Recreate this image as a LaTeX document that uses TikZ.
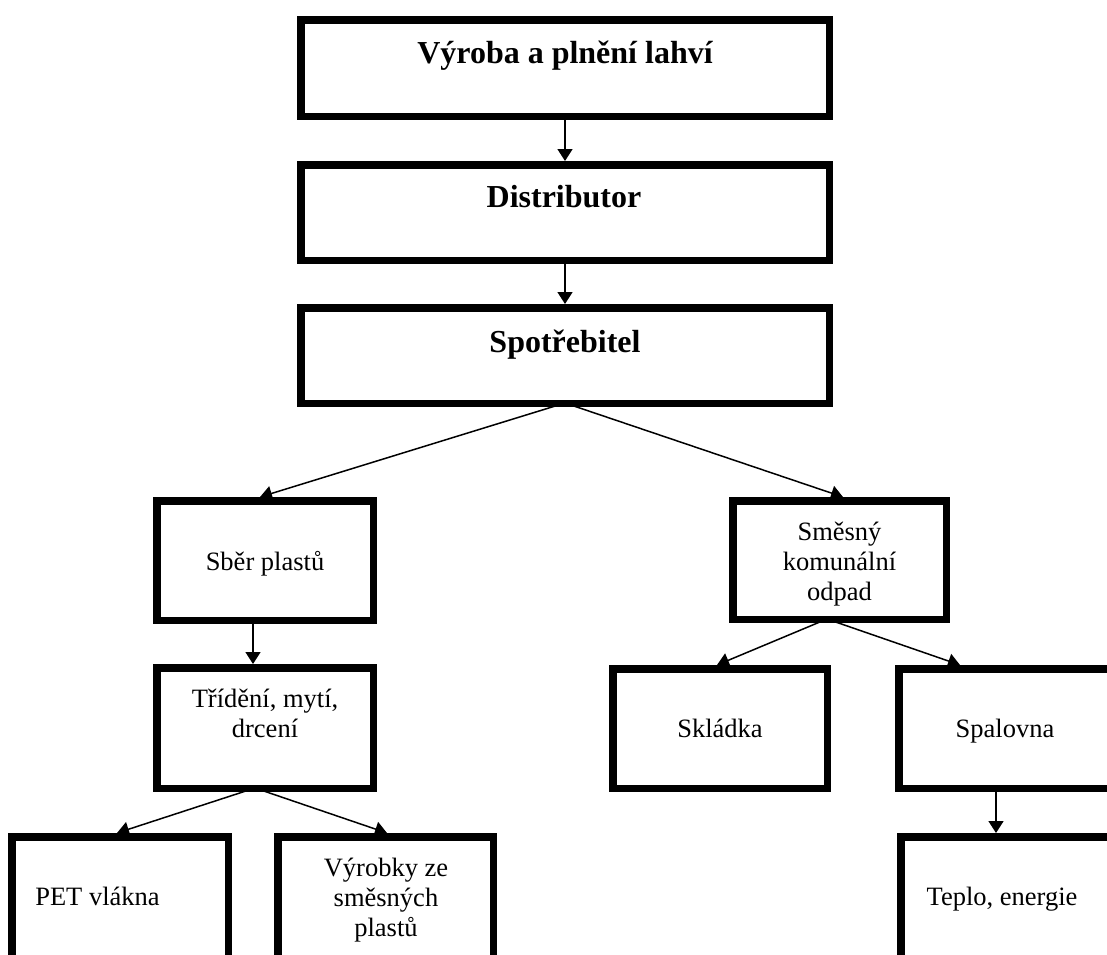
\documentclass[tikz,border=0pt]{standalone}
\usepackage{fontspec}
\setmainfont{Liberation Serif}
\usetikzlibrary{arrows.meta}
\tikzset{
  box/.style={draw, line width=7.5pt, rectangle, inner sep=0pt, outer sep=3.75pt},
  bigtxt/.style={font=\fontsize{32}{36}\selectfont\bfseries, inner sep=0pt, anchor=base},
  txt/.style={font=\fontsize{26.5}{30}\selectfont, inner sep=0pt, anchor=base, align=center},
  conn/.style={line width=1.5pt, -{Triangle[length=12pt,width=15pt]}}
}
\begin{document}
\begin{tikzpicture}[x=1pt,y=-1pt]
\useasboundingbox (0,0) rectangle (1107,954);
\clip (0,0) rectangle (1107,954);
% boxes
\node[box, minimum width=528.5pt, minimum height=96.5pt] (vyroba) at (565,68) {};
\node[box, minimum width=528.5pt, minimum height=95.5pt] (distrib) at (565,212.5) {};
\node[box, minimum width=528.5pt, minimum height=95.5pt] (spotreb) at (565,355.5) {};
\node[box, minimum width=216.5pt, minimum height=119.5pt] (sber) at (265,560.5) {};
\node[box, minimum width=213.5pt, minimum height=118.5pt] (smesny) at (839.5,560) {};
\node[box, minimum width=216.5pt, minimum height=120.5pt] (trid) at (265,728) {};
\node[box, minimum width=214.5pt, minimum height=119.5pt] (skladka) at (720,728.5) {};
\node[box, minimum width=212.5pt, minimum height=119.5pt] (spalovna) at (1005,728.5) {};
\node[box, minimum width=216.5pt, minimum height=139.5pt] (pet) at (120,906.5) {};
\node[box, minimum width=215.5pt, minimum height=139.5pt] (vyrobky) at (385.5,906.5) {};
\node[box, minimum width=210.5pt, minimum height=139.5pt] (teplo) at (1006,906.5) {};
% texts (multi-line: base = last line)
\node[bigtxt] (t1) at (565,63) {Výroba a plnění lahví};
\node[bigtxt] (t2) at (564,207) {Distributor};
\node[bigtxt] (t3) at (565,352) {Spotřebitel};
\node[txt] (t4) at (265,570) {Sběr plastů};
\node[txt] (t5) at (839.5,600) {Směsný\\komunální\\odpad};
\node[txt] (t6) at (265,737) {Třídění, mytí,\\drcení};
\node[txt] (t7) at (720,737) {Skládka};
\node[txt] (t8) at (1005,737) {Spalovna};
\node[txt] (t9) at (97.5,905) {PET vlákna};
\node[txt] (t10) at (386,936) {Výrobky ze\\směsných\\plastů};
\node[txt] (t11) at (1002,905) {Teplo, energie};
% connectors
\draw[conn] (vyroba.south) -- (distrib.north);
\draw[conn] (distrib.south) -- (spotreb.north);
\draw[conn] ([yshift=4pt]spotreb.south) -- ([xshift=-5pt]sber.north);
\draw[conn] ([yshift=4pt]spotreb.south) -- ([xshift=3.5pt]smesny.north);
\draw[conn] ([xshift=-12pt]sber.south) -- ([xshift=-12pt]trid.north);
\draw[conn] ([xshift=-12.5pt,yshift=4pt]smesny.south) -- ([xshift=-3pt]skladka.north);
\draw[conn] ([xshift=-12.5pt,yshift=4pt]smesny.south) -- ([xshift=-45pt]spalovna.north);
\draw[conn] ([xshift=-9pt]spalovna.south) -- ([xshift=-9pt]teplo.north -| spalovna.south);
\draw[conn] ([xshift=-10pt,yshift=4pt]trid.south) -- ([xshift=-3pt]pet.north);
\draw[conn] ([xshift=-10pt,yshift=4pt]trid.south) -- ([xshift=1.5pt]vyrobky.north);
\end{tikzpicture}
\end{document}
